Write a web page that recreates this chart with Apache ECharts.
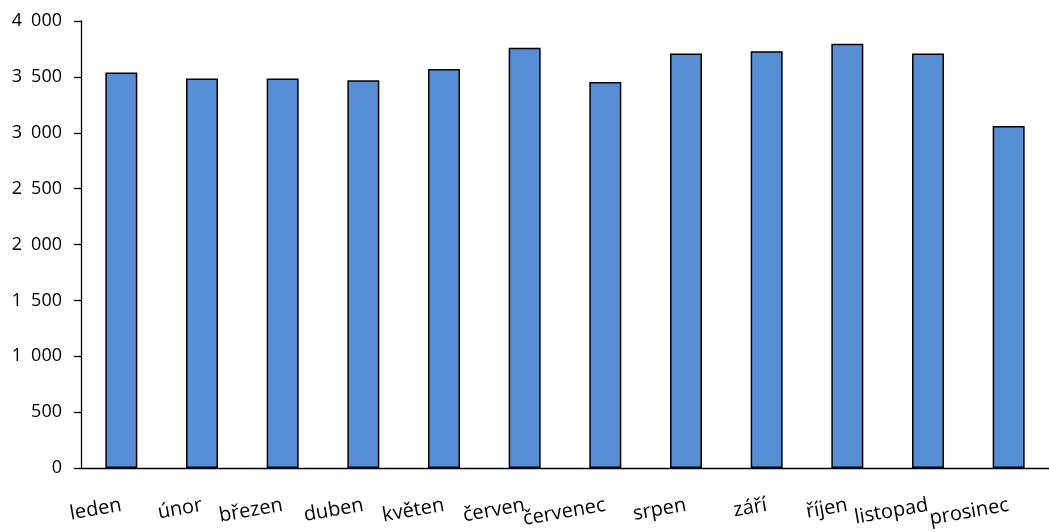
<!DOCTYPE html>
<html><head><meta charset="utf-8">
<script src="https://cdn.jsdelivr.net/npm/echarts@6/dist/echarts.min.js"></script>
<style>html,body{margin:0;padding:0;background:#fff}#c{width:1049px;height:532px}</style>
</head><body><div id="c"></div>
<script>
const categories = ['leden','únor','březen','duben','květen','červen','červenec','srpen','září','říjen','listopad','prosinec'];
const values = [3540, 3485, 3485, 3470, 3570, 3760, 3455, 3710, 3730, 3797, 3710, 3060];
const yTicks = [0, 500, 1000, 1500, 2000, 2500, 3000, 3500, 4000];

function fmt(v){ return String(v).replace(/\B(?=(\d{3})+(?!\d))/g, '\u2002'); }

const chart = echarts.init(document.getElementById('c'));
chart.setOption({
  animation: false,
  backgroundColor: '#ffffff',
  grid: { left: 81, top: 21, bottom: 64, right: -10, containLabel: false },
  xAxis: {
    type: 'category',
    data: categories,
    axisLine: { lineStyle: { color: '#000', width: 1.3 } },
    axisTick: { length: 7, lineStyle: { color: '#000', width: 1.3 } },
    axisLabel: { rotate: 10, margin: 37, color: '#000', fontSize: 20, fontFamily: 'Open Sans', interval: 0 }
  },
  yAxis: {
    type: 'value',
    min: yTicks[0], max: yTicks[yTicks.length-1], interval: 500,
    axisLine: { show: true, lineStyle: { color: '#000', width: 1.3 } },
    axisTick: { show: true, length: 7, lineStyle: { color: '#000', width: 1.3 } },
    splitLine: { show: false },
    axisLabel: { margin: 19, color: '#000', fontSize: 18, fontFamily: 'Open Sans', formatter: fmt }
  },
  series: [{
    type: 'bar',
    data: values,
    barWidth: 32,
    itemStyle: { color: '#558ed5', borderColor: '#000', borderWidth: 1.5 }
  }]
});
</script></body></html>
